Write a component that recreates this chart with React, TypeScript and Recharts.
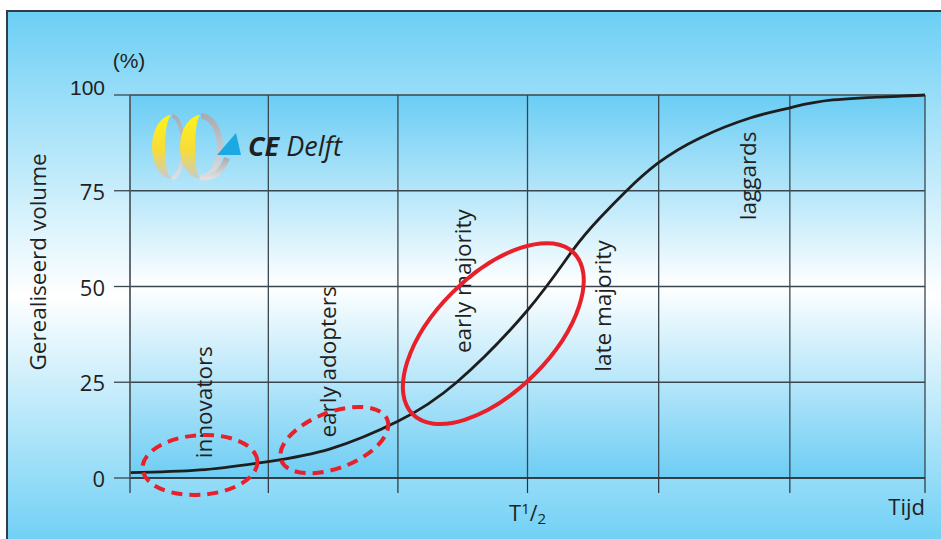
import React from 'react';
import { LineChart, Line, XAxis, YAxis, CartesianGrid, ReferenceDot, Customized } from 'recharts';

// ---- data ----
const timeValues = [0, 8.8, 17.4, 25.2, 33.7, 41.1, 50, 55.7, 59.1, 62.3, 66.4, 71.7, 78.0, 82.9, 88.4, 97.1, 100];
const volumeValues = [1.4, 2.1, 4.3, 7.6, 14.8, 25, 43.8, 59.5, 67.9, 74.7, 82.2, 88.8, 94, 96.6, 98.7, 99.7, 100];
const xTicks = [0, 17.4, 33.7, 50, 66.5, 83, 100];
const yTicks = [0, 25, 50, 75, 100];
const xLabelTicks = [50, 100];
const xLabelTexts = ['T1/2', 'Tijd'];
const phaseNames = ['innovators', 'early adopters', 'early majority', 'late majority', 'laggards'];
const phaseX = [9.2, 24.9, 41.8, 59.4, 77.7];
const phaseY = [19.8, 30.3, 51.4, 44.9, 78.9];
const highlightX = [8.8, 25.7, 45.7];
const highlightY = [3.4, 9.9, 37.7];

// ---- styles (not data) ----
const highlightStyles = [
  { rx: 57.6, ry: 29.8, rot: -4, dash: '11 7' },
  { rx: 56.8, ry: 28, rot: -21, dash: '11 7' },
  { rx: 114, ry: 58, rot: -45, dash: undefined as string | undefined },
];

const chartData = timeValues.map((t, i) => ({ t, v: volumeValues[i] }));

const FONT = '"Open Sans", "DejaVu Sans", sans-serif';
const NARROW = '"Liberation Sans Narrow", "Liberation Sans", Arial, sans-serif';
const TXT = '#231f20';
const RED = '#e8202a';

const YTick = (props: any) => {
  const { x, y, payload } = props;
  const is100 = payload.value === 100;
  return (
    <text
      x={x}
      y={is100 ? y - 8 : y}
      textAnchor="end"
      dominantBaseline="central"
      fontFamily={is100 ? NARROW : FONT}
      fontSize={is100 ? 21 : 22}
      fill={TXT}
    >
      {payload.value}
    </text>
  );
};

const XTick = (props: any) => {
  const { x, y, payload } = props;
  const idx = xLabelTicks.indexOf(payload.value);
  if (idx < 0) return <g />;
  const label = xLabelTexts[idx];
  if (label === 'Tijd') {
    return (
      <text x={x} y={y + 20} textAnchor="end" fontFamily={FONT} fontSize={22} fill={TXT}>
        {label}
      </text>
    );
  }
  return (
    <text x={x} y={y + 26} textAnchor="middle" fontFamily={FONT} fontSize={22} fill={TXT}>
      <tspan>T</tspan>
      <tspan fontSize={15} dy={-7}>1</tspan>
      <tspan fontSize={21} dy={7}>/</tspan>
      <tspan fontSize={15} dy={3}>2</tspan>
    </text>
  );
};

const PhaseLabel = (name: string) => (props: any) => {
  const { cx, cy } = props;
  return (
    <text
      x={cx}
      y={cy}
      transform={`rotate(-90 ${cx} ${cy})`}
      textAnchor="middle"
      dominantBaseline="central"
      fontFamily={FONT}
      fontSize={22.5}
      fill={TXT}
    >
      {name}
    </text>
  );
};

const HighlightShape = (i: number) => (props: any) => {
  const { cx, cy } = props;
  const s = highlightStyles[i];
  return (
    <ellipse
      cx={cx}
      cy={cy}
      rx={s.rx}
      ry={s.ry}
      transform={`rotate(${s.rot} ${cx} ${cy})`}
      fill="none"
      stroke={RED}
      strokeWidth={4}
      strokeDasharray={s.dash}
    />
  );
};

const Decorations = () => (
  <g>
    {/* axis titles */}
    <text x={129} y={60} textAnchor="middle" dominantBaseline="central" fontFamily={NARROW} fontSize={21} fill={TXT}>
      (%)
    </text>
    <text
      x={37}
      y={262}
      transform="rotate(-90 37 262)"
      textAnchor="middle"
      dominantBaseline="central"
      fontFamily={FONT}
      fontSize={22.5}
      fill={TXT}
    >
      Gerealiseerd volume
    </text>
    {/* logo */}
    <g>
      <path d="M 172 116 A 11 31 0 0 1 172 178" fill="none" stroke="url(#ringGray)" strokeWidth={4} />
      <path d="M 201 116 A 19 31 0 0 1 201 178" fill="none" stroke="url(#ringGray)" strokeWidth={6} />
      <path d="M 172 115 A 20 32 0 0 0 172 179 A 7 32 0 0 1 172 115 Z" fill="url(#ringYellow)" />
      <path d="M 201 115 A 21 32 0 0 0 201 179 A 6 32 0 0 1 201 115 Z" fill="url(#ringYellow)" />
      <path d="M 200 177 C 212 180 222 172 227 158" fill="none" stroke="url(#ringGray)" strokeWidth={6} />
      <path d="M 217 155 L 241 155 L 236 133 Z" fill="#1ca8e2" />
      <text x={248} y={156} fontFamily={FONT} fontSize={27} fontStyle="italic" fill={TXT}>
        <tspan fontWeight="bold">CE</tspan> Delft
      </text>
    </g>
  </g>
);

export default function App() {
  return (
    <div style={{ position: 'absolute', left: 0, top: 0, width: 941, height: 539, background: '#fff', overflow: 'hidden' }}>
      <div
        style={{
          position: 'absolute',
          left: 6,
          top: 10,
          width: 940,
          height: 535,
          borderTop: '2px solid #2f3d47',
          borderLeft: '2px solid #2f3d47',
          background: 'linear-gradient(to bottom, #6dcff5 0%, #ffffff 53%, #6dcff5 100%)',
        }}
      />
      <svg width={0} height={0} style={{ position: 'absolute' }}>
        <defs>
          <linearGradient id="plotBg" x1="0" y1="0" x2="0" y2="1">
            <stop offset="0" stopColor="#6acdf4" />
            <stop offset="0.5" stopColor="#ffffff" />
            <stop offset="1" stopColor="#6dcdf4" />
          </linearGradient>
          <linearGradient id="ringYellow" x1="0" y1="0" x2="0" y2="1">
            <stop offset="0" stopColor="#fff21a" />
            <stop offset="0.55" stopColor="#f6dc3a" />
            <stop offset="1" stopColor="#c9cacd" />
          </linearGradient>
          <linearGradient id="ringGray" x1="0" y1="0" x2="0" y2="1">
            <stop offset="0" stopColor="#a9adb3" />
            <stop offset="1" stopColor="#dedfe1" />
          </linearGradient>
        </defs>
      </svg>
      <div style={{ position: 'absolute', left: 0, top: 0 }}>
        <LineChart width={941} height={539} data={chartData} margin={{ top: 95, right: 16, bottom: 21, left: 70 }}>
          <CartesianGrid stroke="#3a464e" strokeWidth={1.3} fill="url(#plotBg)" fillOpacity={1} />
          <XAxis
            dataKey="t"
            type="number"
            domain={[0, 100]}
            ticks={xTicks}
            interval={0}
            height={40}
            tickSize={15}
            tick={<XTick />}
            axisLine={{ stroke: '#2a3238', strokeWidth: 1.5 }}
            tickLine={{ stroke: '#2a3238', strokeWidth: 1.2 }}
          />
          <YAxis
            type="number"
            domain={[0, 100]}
            ticks={yTicks}
            interval={0}
            width={60}
            tickSize={16}
            tickMargin={9}
            tick={<YTick />}
            axisLine={{ stroke: '#5a646b', strokeWidth: 1.5 }}
            tickLine={{ stroke: '#3a464e', strokeWidth: 1.3 }}
          />
          <Customized component={Decorations} />
          <Line
            type="natural"
            dataKey="v"
            stroke="#1e1e1e"
            strokeWidth={2.8}
            dot={false}
            isAnimationActive={false}
          />
          {phaseNames.map((name, i) => (
            <ReferenceDot key={name} x={phaseX[i]} y={phaseY[i]} r={0} shape={PhaseLabel(name)} />
          ))}
          {highlightX.map((hx, i) => (
            <ReferenceDot key={'h' + i} x={hx} y={highlightY[i]} r={1} shape={HighlightShape(i)} />
          ))}
        </LineChart>
      </div>
    </div>
  );
}
